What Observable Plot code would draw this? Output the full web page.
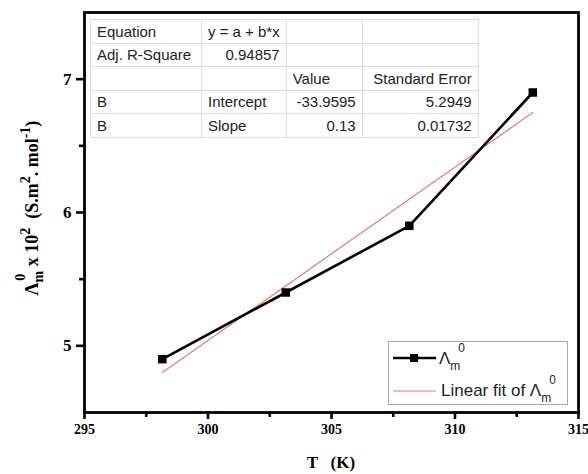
<!DOCTYPE html>
<html><head><meta charset="utf-8">
<script src="https://cdn.jsdelivr.net/npm/d3@7"></script>
<script src="https://cdn.jsdelivr.net/npm/@observablehq/plot@0.6"></script>
<style>
body{margin:0;background:#fff;}
#wrap{position:relative;width:588px;height:474px;}
#tbl{position:absolute;left:90px;top:19px;border-collapse:collapse;table-layout:fixed;font-family:"Liberation Sans",Arial,sans-serif;font-size:15px;color:#222;background:#fff;border:1.5px solid #aaa;}
#tbl td{border:1px solid #ddd;height:23.5px;padding:0 6px;box-sizing:border-box;white-space:nowrap;overflow:visible;}
#leg{position:absolute;left:388px;top:341px;width:180px;height:64px;box-sizing:border-box;border:1.5px solid #aaa;background:#fff;}
#leg svg{overflow:visible;}
</style></head>
<body><div id="wrap"></div>
<script>
// data
const temps = [298.15, 303.15, 308.15, 313.15];
const lambda = [4.9, 5.4, 5.9, 6.9];
const fitIntercept = -33.9595;
const fitSlope = 0.13;
const xTicks = [295, 300, 305, 310, 315];
const xMinor = [297.5, 302.5, 307.5, 312.5];
const yTicks = [5, 6, 7];
const yMinor = [5.5, 6.5];
const tableRows = [
  ["Equation", "y = a + b*x", "", ""],
  ["Adj. R-Square", "0.94857", "", ""],
  ["", "", "Value", "Standard Error"],
  ["B", "Intercept", "-33.9595", "5.2949"],
  ["B", "Slope", "0.13", "0.01732"]
];
const colWidths = [111, 84, 76, 116];

const pts = temps.map((t, i) => ({t, v: lambda[i]}));
const fitPts = [temps[0], temps[temps.length - 1]].map(t => ({t, v: fitIntercept + fitSlope * t}));

const plot = Plot.plot({
  width: 588, height: 474,
  marginLeft: 84, marginRight: 10, marginTop: 12, marginBottom: 62,
  style: {fontFamily: "'Liberation Serif', 'Times New Roman', serif", fontWeight: "bold", fontSize: "14px", color: "#000", background: "#fff"},
  x: {domain: [295, 315]},
  y: {domain: [4.5, 7.5]},
  marks: [
    Plot.line(fitPts, {x: "t", y: "v", stroke: "#e07a7a", strokeWidth: 1.2}),
    Plot.line(pts, {x: "t", y: "v", stroke: "#000", strokeWidth: 2.6}),
    Plot.dot(pts, {x: "t", y: "v", symbol: "square", fill: "#000", r: 4.8}),
    Plot.axisX(xTicks, {tickSize: 7, strokeWidth: 2.6, tickPadding: 5, label: null, tickFormat: d3.format("d")}),
    Plot.axisX(xMinor, {tickSize: 5, strokeWidth: 2.6, tickFormat: () => "", label: null}),
    Plot.axisY(yTicks, {tickSize: 8, strokeWidth: 2.6, tickPadding: 5, label: null, fontSize: 17, tickFormat: d3.format("d")}),
    Plot.axisY(yMinor, {tickSize: 5, strokeWidth: 2.6, tickFormat: () => "", label: null}),
    Plot.frame({stroke: "#000", strokeWidth: 2.8})
  ]
});

const wrap = document.getElementById("wrap");
wrap.appendChild(plot);
const svg = d3.select(plot);

// x axis title
svg.append("text").attr("x", 331).attr("y", 468).attr("text-anchor", "middle")
  .style("font-family", "'Liberation Serif', serif").style("font-weight", "bold").style("font-size", "17px")
  .attr("xml:space", "preserve").text("T   (K)");

// y axis title
const yl = svg.append("text").attr("transform", "translate(38,208) rotate(-90)").attr("text-anchor", "middle")
  .style("font-family", "'Liberation Serif', serif").style("font-weight", "bold").style("font-size", "18px");
yl.append("tspan").text("Λ");
yl.append("tspan").attr("dy", 5).style("font-size", "14px").text("m");
yl.append("tspan").attr("dx", -10).attr("dy", -18).style("font-size", "14px").text("0");
yl.append("tspan").attr("dx", 3).attr("dy", 13).text(" x 10");
yl.append("tspan").attr("dy", -8).style("font-size", "14px").text("2");
yl.append("tspan").attr("dy", 8).text("  (S.m");
yl.append("tspan").attr("dy", -8).style("font-size", "14px").text("2");
yl.append("tspan").attr("dy", 8).text(". mol");
yl.append("tspan").attr("dy", -8).style("font-size", "14px").text("-1");
yl.append("tspan").attr("dy", 8).text(")");

// table
const tbl = document.createElement("table");
tbl.id = "tbl";
tableRows.forEach((row, ri) => {
  const tr = document.createElement("tr");
  row.forEach((cell, ci) => {
    const td = document.createElement("td");
    td.textContent = cell;
    td.style.width = colWidths[ci] + "px";
    const numeric = /^-?[0-9.]+$/.test(cell);
    td.style.textAlign = numeric || cell === "Standard Error" ? "right" : "left";
    tr.appendChild(td);
  });
  tbl.appendChild(tr);
});
wrap.appendChild(tbl);

// legend
const leg = document.createElement("div");
leg.id = "leg";
wrap.appendChild(leg);
const ls = d3.select(leg).append("svg").attr("width", 177).attr("height", 61);
ls.append("line").attr("x1", 4).attr("x2", 47).attr("y1", 16).attr("y2", 16).attr("stroke", "#000").attr("stroke-width", 2.6);
ls.append("rect").attr("x", 21).attr("y", 12).attr("width", 8).attr("height", 8).attr("fill", "#000");
ls.append("line").attr("x1", 4).attr("x2", 47).attr("y1", 49).attr("y2", 49).attr("stroke", "#e07a7a").attr("stroke-width", 1.2);
function lam(sel, x, y, prefix) {
  const t = sel.append("text").attr("x", x).attr("y", y)
    .style("font-family", "'Liberation Sans', Arial, sans-serif").style("font-size", "17px").attr("fill", "#222");
  t.append("tspan").text(prefix + "Λ");
  t.append("tspan").attr("dy", 6).style("font-size", "12px").text("m");
  t.append("tspan").attr("dx", -2).attr("dy", -18).style("font-size", "12px").text("0");
}
lam(ls, 50, 22, "");
lam(ls, 52, 54, "Linear fit of ");
</script></body></html>
